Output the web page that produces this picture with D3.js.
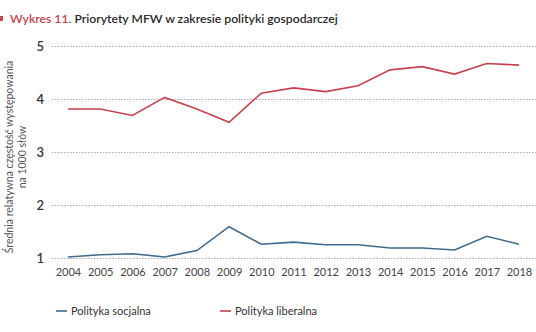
<!DOCTYPE html>
<html><head><meta charset="utf-8">
<script src="https://cdn.jsdelivr.net/npm/d3@7"></script>
<style>body{margin:0;background:#fff}svg{display:block}</style>
</head><body>
<script>
const years = ["2004","2005","2006","2007","2008","2009","2010","2011","2012","2013","2014","2015","2016","2017","2018"];
const socjalna = [1.02,1.06,1.08,1.02,1.14,1.59,1.26,1.30,1.25,1.25,1.19,1.19,1.15,1.41,1.26];
const liberalna = [3.81,3.81,3.69,4.03,3.81,3.56,4.11,4.21,4.14,4.25,4.55,4.61,4.47,4.67,4.64];
const yTicks = [1,2,3,4,5];
const seriesNames = ["Polityka socjalna","Polityka liberalna"];
const colors = ["#3f6b8c","#c7424e"];

const W=536,H=332;
const svg=d3.select("body").append("svg").attr("width",W).attr("height",H);
const font="Lato, 'Open Sans', sans-serif";

const x=d3.scalePoint().domain(years).range([68,519]);
const y=d3.scaleLinear().domain([1,5]).range([258,46]);

// title
svg.append("rect").attr("x",0).attr("y",16).attr("width",3).attr("height",5).attr("fill","#c7424e");
const t=svg.append("text").attr("x",10).attr("y",23).attr("font-family",font).attr("font-size",12.2).attr("font-weight",600);
t.append("tspan").attr("fill","#c7424e").text("Wykres 11.");
t.append("tspan").attr("fill","#2a2a2a").text(" Priorytety MFW w zakresie polityki gospodarczej");

// grid
const gy=svg.append("g").call(d3.axisLeft(y).tickValues(yTicks).tickSize(-484).tickFormat(d3.format("d")))
  .attr("transform","translate(52,0)");
gy.select(".domain").remove();
gy.selectAll(".tick line").attr("stroke","#aaa").attr("stroke-dasharray","1.5,1.5").attr("stroke-width",1);
gy.selectAll(".tick text").attr("x",-8).attr("font-family",font).attr("font-size",13).attr("font-weight",600).attr("fill","#333");

// x axis
const gx=svg.append("g").attr("transform","translate(0,262)").call(d3.axisBottom(x).tickSize(0));
gx.select(".domain").remove();
gx.selectAll(".tick text").attr("dy","0.71em").attr("y",6).attr("font-family",font).attr("font-size",11).attr("fill","#444");

// y title
const yt=svg.append("text").attr("transform","translate(9,157) rotate(-90)").attr("text-anchor","middle")
  .attr("font-family",font).attr("font-size",10.5).attr("fill","#555");
yt.append("tspan").attr("x",0).attr("dy","0.35em").text("Średnia relatywna częstość występowania");
yt.append("tspan").attr("x",0).attr("dy","1.3em").text("na 1000 słów");

// lines
const line=d3.line().x((d,i)=>x(years[i])).y(d=>y(d));
[socjalna,liberalna].forEach((s,k)=>{
  svg.append("path").datum(s).attr("d",line).attr("fill","none").attr("stroke",colors[k]).attr("stroke-width",1.6);
});

// legend
const lx=[56,220];
seriesNames.forEach((n,k)=>{
  svg.append("line").attr("x1",lx[k]).attr("x2",lx[k]+11).attr("y1",311).attr("y2",311).attr("stroke",colors[k]).attr("stroke-width",1.6);
  svg.append("text").attr("x",lx[k]+15).attr("y",311).attr("dy","0.35em").attr("font-family",font).attr("font-size",11).attr("fill","#333").text(n);
});
</script>
</body></html>
